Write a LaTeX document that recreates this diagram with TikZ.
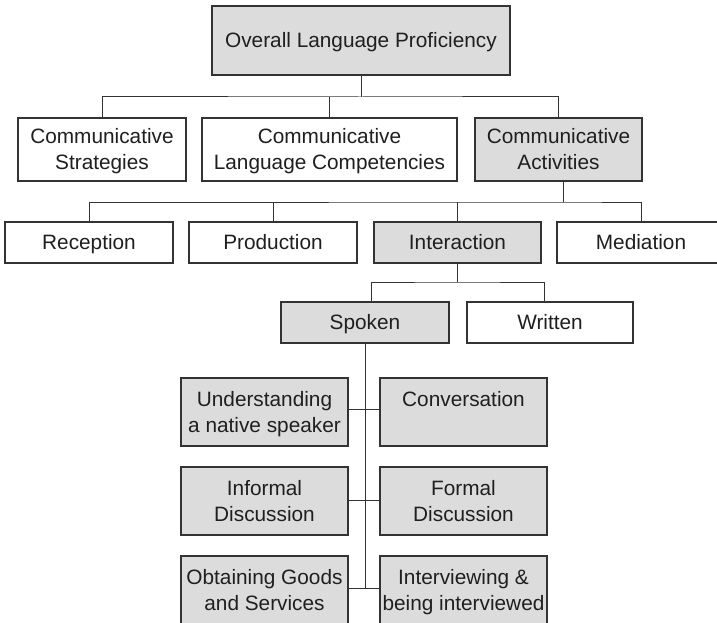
\documentclass[tikz,border=0pt]{standalone}
\usepackage{fontspec}
\setmainfont{Liberation Sans}
\usetikzlibrary{calc}
\definecolor{boxgrey}{HTML}{DCDCDC}
\definecolor{linegrey}{HTML}{333333}
\newcommand\mys{\rule[-6pt]{0pt}{26pt}}
\begin{document}
\begin{tikzpicture}[x=1pt,y=-1pt,
  bx/.style={draw=linegrey, line width=1.2pt, rectangle, inner sep=0pt, align=center,
    font=\fontsize{20.8}{26}\selectfont, text=black!88},
  gbox/.style={bx, fill=boxgrey},
  wbox/.style={bx, fill=white},
  conn/.style={draw=linegrey, line width=1pt}]
\clip (0,0) rectangle (717,623);
\fill[fill=white] (0,0) rectangle (717,623);
% top
\node[gbox, minimum width=298pt, minimum height=69pt] (top) at (361,40.5) {\mys Overall Language Proficiency};
% row 2
\node[wbox, minimum width=168pt, minimum height=63pt] (cs) at (102,149.5) {\mys Communicative\\\mys Strategies};
\node[wbox, minimum width=255pt, minimum height=63pt] (clc) at (329.5,149.5) {\mys Communicative\\\mys Language Competencies};
\node[gbox, minimum width=167pt, minimum height=63pt] (ca) at (558.5,149.5) {\mys Communicative\\\mys Activities};
% row 3
\node[wbox, minimum width=168pt, minimum height=41pt] (rec) at (89,242.5) {\mys Reception};
\node[wbox, minimum width=168pt, minimum height=41pt] (prod) at (273,242.5) {\mys Production};
\node[gbox, minimum width=167pt, minimum height=41pt] (inter) at (457.5,242.5) {\mys Interaction};
\node[wbox, minimum width=168pt, minimum height=41pt] (med) at (641,242.5) {\mys Mediation};
% row 4
\node[gbox, minimum width=168pt, minimum height=41pt] (spo) at (365,322.5) {\mys Spoken};
\node[wbox, minimum width=166pt, minimum height=41pt] (wri) at (550,322.5) {\mys Written};
% bottom grid
\node[gbox, minimum width=167pt, minimum height=68pt] (und) at (264.5,412) {\mys Understanding\\\mys a native speaker};
\node[gbox, minimum width=167pt, minimum height=68pt] (conv) at (463.5,412) {\mys Conversation\\\mys};
\node[gbox, minimum width=167pt, minimum height=68pt] (inf) at (264.5,501) {\mys Informal\\\mys Discussion};
\node[gbox, minimum width=167pt, minimum height=68pt] (form) at (463.5,501) {\mys Formal\\\mys Discussion};
\node[gbox, minimum width=167pt, minimum height=68pt] (obt) at (264.5,590) {\mys Obtaining Goods\\\mys and Services};
\node[gbox, minimum width=167pt, minimum height=68pt] (intv) at (463.5,590) {\mys Interviewing \&\\\mys being interviewed};
% junction coordinates
\coordinate (j1) at (361,97);
\coordinate (j2) at (563,202);
\coordinate (j3) at (457,282);
\coordinate (s1) at (365,409);
\coordinate (s2) at (365,500);
\coordinate (s3) at (365,588);
% connectors level 1
\draw[conn] (top.south -| j1) -- (j1);
\draw[conn] (cs.north) |- (j1) -| (ca.north);
\draw[conn] (clc.north) -- (clc.north |- j1);
% level 2
\draw[conn] (ca.south -| j2) -- (j2);
\draw[conn] (rec.north) |- (j2) -| (med.north);
\draw[conn] (prod.north) -- (prod.north |- j2);
\draw[conn] (inter.north) -- (inter.north |- j2);
% level 3
\draw[conn] (inter.south -| j3) -- (j3);
\draw[conn] ($(spo.north)+(6,0)$) |- (j3) -| ($(wri.north)+(-6,0)$);
% spine
\draw[conn] (spo.south) -- (s3);
\draw[conn] (und.east |- s1) -- (conv.west |- s1);
\draw[conn] (inf.east |- s2) -- (form.west |- s2);
\draw[conn] (obt.east |- s3) -- (intv.west |- s3);
\end{tikzpicture}
\end{document}
